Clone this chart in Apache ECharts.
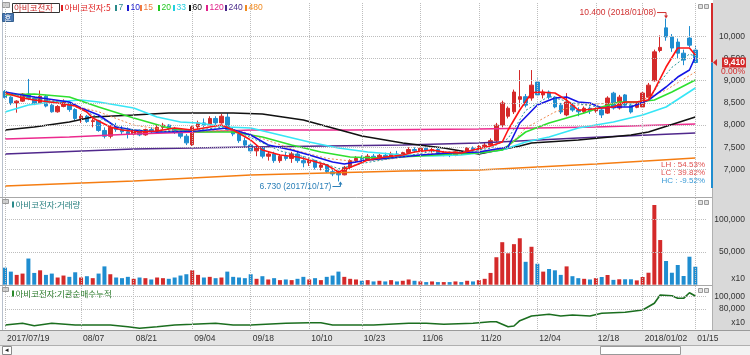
<!DOCTYPE html>
<html><head><meta charset="utf-8">
<script src="https://cdn.jsdelivr.net/npm/echarts@6/dist/echarts.min.js"></script>
<style>html,body{margin:0;padding:0;background:#fff}#c{width:750px;height:355px}</style>
</head><body><div id="c"></div>
<script>
// ---------- DATA ----------
const dates = [
'2017/07/19','2017/07/20','2017/07/21','2017/07/24','2017/07/25','2017/07/26','2017/07/27','2017/07/28','2017/07/31','2017/08/01','2017/08/02','2017/08/03','2017/08/04',
'2017/08/07','2017/08/08','2017/08/09','2017/08/10','2017/08/11','2017/08/14','2017/08/16','2017/08/17','2017/08/18',
'2017/08/21','2017/08/22','2017/08/23','2017/08/24','2017/08/25','2017/08/28','2017/08/29','2017/08/30','2017/08/31','2017/09/01',
'2017/09/04','2017/09/05','2017/09/06','2017/09/07','2017/09/08','2017/09/11','2017/09/12','2017/09/13','2017/09/14','2017/09/15',
'2017/09/18','2017/09/19','2017/09/20','2017/09/21','2017/09/22','2017/09/25','2017/09/26','2017/09/27','2017/09/28','2017/09/29',
'2017/10/10','2017/10/11','2017/10/12','2017/10/13','2017/10/16','2017/10/17','2017/10/18','2017/10/19','2017/10/20',
'2017/10/23','2017/10/24','2017/10/25','2017/10/26','2017/10/27','2017/10/30','2017/10/31','2017/11/01','2017/11/02','2017/11/03',
'2017/11/06','2017/11/07','2017/11/08','2017/11/09','2017/11/10','2017/11/13','2017/11/14','2017/11/15','2017/11/16','2017/11/17',
'2017/11/20','2017/11/21','2017/11/22','2017/11/23','2017/11/24','2017/11/27','2017/11/28','2017/11/29','2017/11/30','2017/12/01',
'2017/12/04','2017/12/05','2017/12/06','2017/12/07','2017/12/08','2017/12/11','2017/12/12','2017/12/13','2017/12/14','2017/12/15',
'2017/12/18','2017/12/19','2017/12/20','2017/12/21','2017/12/22','2017/12/26','2017/12/27','2017/12/28',
'2018/01/02','2018/01/03','2018/01/04','2018/01/05','2018/01/08','2018/01/09','2018/01/10','2018/01/11','2018/01/12','2018/01/15'
];
const padCats = ['pad1','pad2'];

const open = [8760,8630,8500,8540,8700,8600,8500,8650,8450,8300,8420,8500,8350,
8150,8200,8080,8100,7880,7750,7950,7900,7850,
7800,7880,7780,7900,7850,7950,8000,7920,7850,7750,
7560,7960,8050,8000,8150,8050,8180,7900,7800,7650,
7550,7420,7500,7300,7350,7200,7300,7250,7350,7200,
7150,7200,7050,7100,6950,6950,6880,7050,7200,
7250,7220,7300,7250,7320,7280,7350,7300,7380,7450,
7420,7480,7430,7450,7350,7380,7320,7400,7360,7480,
7450,7520,7550,7650,8000,8200,8300,8580,8640,8610,
8970,8680,8745,8630,8450,8230,8450,8340,8300,8380,
8320,8340,8270,8720,8385,8680,8450,8400,
8408,8630,9000,9680,10190,9985,9870,9620,9960,9690];
const high = [8790,8650,8560,8720,9040,8650,8780,8680,8500,8450,8580,8520,8380,
8250,8230,8150,8120,7950,8000,8050,7980,7950,
7900,7900,7920,7950,8000,8050,8020,7960,7880,7800,
8000,8100,8150,8200,8200,8250,8270,7950,7850,7720,
7600,7550,7520,7400,7400,7350,7380,7400,7400,7300,
7250,7220,7150,7120,7000,6980,7080,7230,7300,
7320,7350,7350,7350,7380,7400,7420,7400,7500,7500,
7520,7520,7500,7480,7420,7400,7430,7420,7500,7520,
7550,7600,7700,8050,8550,8420,8800,9240,8700,9240,
9050,8800,8780,8650,8500,8720,8500,8400,8420,8420,
8400,8380,8650,8750,8680,8700,8480,8520,
8750,8950,9700,10020,10400,10050,9950,9700,10230,9800];
const low = [8600,8450,8280,8520,8560,8450,8480,8400,8280,8280,8400,8300,8100,
8050,8050,7950,7850,7700,7700,7850,7800,7700,
7750,7750,7760,7820,7830,7900,7880,7800,7700,7550,
7530,7900,7950,7980,8000,8030,7880,7750,7600,7500,
7380,7300,7250,7200,7150,7150,7200,7150,7150,7050,
7080,7000,6980,6920,6850,6730,6870,7000,7150,
7180,7200,7200,7220,7250,7260,7280,7280,7350,7380,
7400,7400,7380,7320,7300,7280,7300,7330,7350,7400,
7430,7480,7530,7620,7950,8150,8250,8400,8400,8550,
8650,8600,8580,8380,8250,8200,8300,8200,8250,8250,
8280,8160,8250,8350,8350,8420,8260,8380,
8400,8600,8980,9640,9900,9650,9500,9350,9750,9400];
const close = [8620,8500,8540,8700,8600,8480,8650,8430,8300,8420,8520,8350,8150,
8200,8080,8100,7880,7750,7950,7900,7850,7800,
7880,7780,7900,7850,7950,8000,7920,7850,7750,7600,
7960,8050,8000,8150,8050,8200,7900,7800,7650,7550,
7420,7500,7300,7350,7200,7300,7250,7350,7200,7150,
7200,7050,7100,6950,6900,6880,7050,7200,7250,
7220,7300,7250,7320,7280,7350,7300,7380,7450,7420,
7480,7430,7450,7350,7380,7320,7400,7360,7480,7450,
7520,7550,7650,8000,8500,8380,8745,8640,8450,8900,
8680,8745,8630,8410,8295,8520,8340,8300,8380,8320,
8360,8230,8610,8385,8630,8450,8295,8500,
8723,8900,9650,9750,9985,9736,9620,9465,9800,9410];
const volume = [26000,20000,15000,17000,40000,18000,22000,15000,17000,11000,14000,12000,19000,
11000,13000,10000,17000,28000,16000,11000,10000,12000,
9000,11000,10000,8000,11000,10000,9000,11000,14000,16000,
22000,15000,11000,12000,10000,11000,20000,12000,11000,10000,
16000,9000,13000,8000,10000,7000,8000,7000,9000,12000,
8000,10000,7000,12000,14000,20000,12000,9000,8000,
6000,7000,5000,6000,5000,7000,5000,6000,8000,6000,
5000,4000,5000,4000,4000,4000,5000,4000,6000,5000,
7000,9000,18000,42000,65000,48000,62000,71000,35000,58000,
32000,20000,24000,22000,15000,28000,13000,10000,9000,8000,
10000,11800,14800,7400,8300,8300,8300,6600,
11800,18300,121900,68300,36200,18300,30100,13300,42800,27500];

// moving averages: [day index, price]
const ma5 = [[0,8723],[3,8610],[5,8565],[9,8498],[12,8430],[14,8295],[15,8160],[18,7957],[20,7890],[23,7845],[26,7867],[29,7935],[32,7890],[34,7935],[37,8002],[39,7890],[42,7665],[44,7439],[47,7327],[50,7282],[52,7214],[55,7102],[57,6944],[60,7102],[62,7214],[65,7282],[68,7327],[70,7394],[73,7439],[75,7394],[78,7372],[80,7439],[83,7530],[85,7620],[86,7890],[88,8340],[90,8723],[91,8746],[94,8723],[96,8565],[98,8340],[99,8340],[102,8385],[104,8408],[106,8520],[108,8520],[110,8565],[111,8790],[113,9308],[115,9736],[117,9736],[118,9579]];
const ma7 = [[0,8735],[5,8600],[11,8480],[15,8230],[20,7920],[26,7850],[32,7880],[38,7960],[42,7720],[47,7420],[52,7260],[57,7020],[62,7160],[68,7290],[73,7410],[78,7380],[83,7480],[86,7700],[89,8330],[93,8650],[97,8500],[102,8400],[106,8460],[110,8560],[112,8980],[114,9300],[117,9600],[118,9550]];
const ma10 = [[0,8746],[5,8633],[11,8520],[13,8385],[16,8228],[19,7957],[22,7890],[26,7845],[33,7867],[38,7935],[42,7777],[45,7552],[49,7439],[52,7327],[56,7169],[58,7124],[62,7214],[66,7259],[71,7327],[76,7372],[81,7394],[86,7507],[88,8047],[91,8453],[94,8610],[96,8633],[98,8520],[100,8498],[102,8385],[104,8408],[107,8408],[110,8565],[113,8858],[115,9083],[117,9241],[118,9534]];
const ma15 = [[0,8700],[8,8560],[16,8300],[22,8000],[28,7880],[34,7870],[40,7880],[45,7650],[50,7420],[55,7250],[60,7180],[66,7240],[72,7350],[78,7400],[83,7420],[86,7500],[89,7935],[94,8295],[98,8453],[104,8498],[108,8520],[113,8790],[118,9196]];
const ma20 = [[0,8678],[5,8700],[11,8633],[16,8408],[22,8160],[28,7935],[33,7845],[39,7845],[44,7732],[49,7552],[54,7394],[59,7282],[64,7259],[71,7304],[76,7349],[81,7372],[85,7439],[89,7845],[93,8047],[96,8160],[99,8273],[102,8408],[105,8520],[108,8520],[111,8565],[114,8746],[118,9016]];
const ma33 = [[0,8295],[4,8453],[8,8520],[13,8565],[16,8520],[22,8385],[26,8183],[30,8070],[33,8047],[38,7957],[42,7935],[47,7777],[52,7620],[57,7484],[62,7394],[68,7327],[73,7304],[78,7327],[81,7372],[85,7439],[89,7620],[93,7732],[98,7935],[104,8070],[109,8228],[113,8408],[118,8836]];
const ma60 = [[0,7890],[5,7957],[11,8070],[15,8183],[22,8228],[28,8273],[39,8273],[44,8250],[51,8115],[56,7935],[61,7755],[68,7597],[75,7484],[81,7349],[88,7530],[90,7597],[98,7665],[107,7777],[110,7845],[118,8183]];
const ma120 = [[0,7687],[11,7732],[22,7800],[33,7845],[42,7890],[59,7890],[81,7912],[101,7957],[118,8025]];
const ma240 = [[0,7349],[22,7462],[42,7507],[68,7552],[81,7597],[98,7710],[118,7822]];
const ma480 = [[0,6628],[22,6741],[42,6876],[68,6966],[81,6989],[101,7124],[118,7259]];

// institutional net buying (cumulative): [day index, value]
const cumNet = [[0,53980],[3,56750],[5,52850],[8,56750],[12,54000],[18,54000],[21,51220],[23,48620],[26,51220],[29,54000],[32,55120],[36,56750],[39,54000],[42,54000],[48,56750],[52,57720],[54,57720],[56,54000],[63,54000],[69,56750],[72,56750],[75,55120],[80,56750],[83,59350],[84,59350],[86,51220],[87,52360],[88,60980],[90,68620],[93,71380],[95,68620],[97,70240],[100,68620],[102,73010],[106,74630],[109,78370],[111,89270],[112,102760],[114,101630],[115,97400],[116,97400],[117,106500],[118,101140]];

const priceTicks = [7000,7500,8000,8500,9000,9500,10000];
const volTicks = [50000,100000];
const cumTicks = [80000,100000];
const dateTickIdx = [0,13,22,32,42,52,61,71,81,91,101,109,118];
const dateTickLabels = ['2017/07/19','08/07','08/21','09/04','09/18','10/10','10/23','11/06','11/20','12/04','12/18','2018/01/02','01/15'];

const maNames = ['5','7','10','15','20','33','60','120','240','480'];
const stockName = '아비코전자';
const hiIdx = 113, hiVal = 10400, hiText = '10.400 (2018/01/08)';
const loIdx = 57, loVal = 6730, loText = '6.730 (2017/10/17)';
const lastPrice = 9410, lastChg = '0.00%';
const statTexts = ['LH : 54.53%','LC : 39.82%','HC : -9.52%'];

// ---------- CHART ----------
const RED = '#d42a2a', BLUE = '#1f8dd0';
const cats = dates.concat(padCats);
const tickSet = new Set(dateTickIdx);
const labelMap = {}; dateTickIdx.forEach((d,i)=>labelMap[d]=dateTickLabels[i]);
const FONT = 'Liberation Sans';
const KFONT = 'Noto Sans CJK KR';
const fmt = v => Math.round(v).toLocaleString('en-US');

const candleData = open.map((o,i)=>[o, close[i], low[i], high[i]]);
const volData = volume.map((v,i)=>({value:v, itemStyle:{color: close[i]>=open[i]?RED:BLUE}}));

const gridBase = {left:5, width:702, outerBoundsMode:'none', containLabel:false};
const grids = [
  Object.assign({top:3, height:194}, gridBase),
  Object.assign({top:198, height:86.7}, gridBase),
  Object.assign({top:286, height:43}, gridBase)
];
function xAx(gi, showLabel){
  return {type:'category', gridIndex:gi, data:cats, boundaryGap:false, z:10,
    axisLine:{show:false}, axisTick:{show:false},
    axisLabel:{show:showLabel, interval:(i)=>tickSet.has(i), formatter:(v,i)=>labelMap[i]||'',
      align:'left', padding:[0,0,0,2], margin:5, fontSize:8.5, fontFamily:FONT, color:'#333'},
    splitLine:{show:true, interval:(i)=>tickSet.has(i), lineStyle:{type:'dotted', color:'#bdbdbd', width:1}}};
}
function yAx(gi, min, max, ticks){
  return {type:'value', gridIndex:gi, position:'right', min:min, max:max, z:10,
    axisLine:{show:false}, axisTick:{show:false, customValues:ticks},
    axisLabel:{customValues:ticks, align:'right', margin:38, fontSize:8.5, fontFamily:FONT, color:'#333', formatter:fmt},
    splitLine:{show:true, lineStyle:{type:'dotted', color:'#bdbdbd', width:1}}};
}
const maStyles = [
  {c:'#ff1414', w:1.6},
  {c:'#2a9a9a', w:1, t:[2,2]},
  {c:'#1414e6', w:1.6},
  {c:'#f08a50', w:1, t:[2,2]},
  {c:'#2ee02e', w:1.6},
  {c:'#36e6f6', w:1.6},
  {c:'#111111', w:1.6},
  {c:'#ec2a8e', w:1.6},
  {c:'#50288c', w:1.6},
  {c:'#f57d12', w:1.6}
];
const maData = [ma5,ma7,ma10,ma15,ma20,ma33,ma60,ma120,ma240,ma480];
const series = [];
series.push({type:'candlestick', name:'price', xAxisIndex:0, yAxisIndex:0, data:candleData, barWidth:4, clip:false, z:3,
  itemStyle:{color:RED, color0:BLUE, borderColor:RED, borderColor0:BLUE, borderWidth:1}});
for (let k=maData.length-1;k>=0;k--){
  const s = maStyles[k];
  series.push({type:'line', name:'MA'+maNames[k], xAxisIndex:0, yAxisIndex:0, data:maData[k], symbol:'none', z:4,
    lineStyle:{color:s.c, width:s.w, type:s.t||'solid'}, silent:true, clip:false});
}
series.push({type:'bar', name:'volume', xAxisIndex:1, yAxisIndex:1, data:volData, barWidth:4, clip:false, z:3});
series.push({type:'line', name:'cum', xAxisIndex:2, yAxisIndex:2, data:cumNet, symbol:'none', z:3,
  lineStyle:{color:'#1b6e1f', width:1.6}, silent:true});

const chart = echarts.init(document.getElementById('c'));
chart.setOption({
  animation:false, backgroundColor:'#ffffff',
  grid:grids,
  xAxis:[xAx(0,false), xAx(1,false), xAx(2,true)],
  yAxis:[yAx(0,6381,10750,priceTicks), yAx(1,0,132560,volTicks), yAx(2,47480,117400,cumTicks)],
  series:series
});

// ---------- DECORATION ----------
function P(gi, i, v){ return chart.convertToPixel({gridIndex:gi}, [i, v]); }
const G = [];
const txt = (x,y,t,color,size,align,font,weight,z)=>({type:'text', x:x, y:y, z:z||20, silent:true,
  style:{text:t, fill:color, fontSize:size, fontFamily:font||FONT, fontWeight:weight||'normal', align:align||'left', verticalAlign:'middle'}});
const rect = (x,y,w,h,fill,stroke,z)=>({type:'rect', z:z||1, silent:true, shape:{x:x,y:y,width:w,height:h}, style:{fill:fill, stroke:stroke||null, lineWidth:1}});
const line = (x1,y1,x2,y2,c,z)=>({type:'line', z:z||2, silent:true, shape:{x1:x1,y1:y1,x2:x2,y2:y2}, style:{stroke:c, lineWidth:1}});

// backgrounds
G.push(rect(713,0,37,330,'#d9d9d9',null,0));
G.push(rect(0,330,750,15,'#e4e4e4',null,0));
G.push(line(0,330.5,750,330.5,'#9a9a9a'));
G.push(rect(0,345,750,10,'#f3f3f3',null,0));
G.push(line(0,345.5,750,345.5,'#b0b0b0'));
G.push(rect(2.5,346.5,9,8,'#ffffff','#8a8a8a',2));
G.push(txt(7,350.5,'◂','#222',7,'center'));
G.push(rect(600.5,346.5,80,8,'#ffffff','#9a9a9a',2));
G.push(line(2.5,0,2.5,330,'#b8c0cc'));
G.push(line(0,197.5,713,197.5,'#a8a8a8'));
G.push(line(0,285.5,713,285.5,'#a8a8a8'));
G.push(line(712.5,188,712.5,330,'#b0b0b0'));

// price bar at right edge
const yP = P(0,118,lastPrice)[1];
G.push(rect(711,3,2,yP-3,RED,null,5));
G.push(rect(711,yP,2,188-yP,BLUE,null,5));
G.push({type:'polygon', z:21, silent:true, shape:{points:[[713,yP],[717,yP-3.5],[717,yP+3.5]]}, style:{fill:RED}});
G.push(rect(722,yP-5,24,10,RED,null,21));
G.push(txt(745,yP,fmt(lastPrice),'#ffffff',8.5,'right',FONT,'bold',22));
G.push(txt(745,yP+9,lastChg,RED,8.5,'right',FONT,'normal',22));

// top-left chrome and legend
G.push(rect(2.5,2.5,7,5,'#d0d0d0','#9a9a9a',5));
G.push(rect(12.5,3.5,47,9,'#ffffff','#333333',5));
G.push(txt(14,8,stockName,'#c82828',8.5,'left',KFONT,'normal',21));
G.push(rect(2.5,13.5,11,8,'#4a78b4','#34608f',5));
G.push(txt(8,17.5,'호','#ffffff',7,'center',KFONT,'normal',21));
const legX = [61,115,127,140,158,173,189,206,225,245];
const legC = ['#e02020','#2a8a8a','#1a1ad0','#f07a40','#22c822','#22d0e0','#111111','#e0208a','#4a2a8a','#f08a20'];
maNames.forEach((n,k)=>{
  G.push(rect(legX[k],5,2,6,legC[k],null,21));
  G.push(txt(legX[k]+3.5,8, k===0? stockName+':'+n : n, legC[k], 8.5,'left', k===0?KFONT:FONT,'normal',21));
});
// panel titles
G.push(rect(2.5,199.5,6,4,'#d0d0d0','#9a9a9a',5));
G.push(rect(12,201.5,2,6,'#2a8a8a',null,21));
G.push(txt(15.5,204.5,stockName+':거래량','#2a8080',8.5,'left',KFONT,'normal',21));
G.push(rect(2.5,287.5,6,4,'#d0d0d0','#9a9a9a',5));
G.push(rect(12,290.5,2,6,'#2a8a2a',null,21));
G.push(txt(15.5,293.5,stockName+':기관순매수누적','#2a7a2a',8.5,'left',KFONT,'normal',21));
// small panel buttons
[4,200,288].forEach(y=>{ G.push(rect(698.5,y+0.5,4,4,'#e0e0e0','#9a9a9a',21)); G.push(rect(704.5,y+0.5,4,4,'#e0e0e0','#9a9a9a',21)); });
// unit labels
G.push(txt(745,279,'x10','#333',8.5,'right'));
G.push(txt(745,323,'x10','#333',8.5,'right'));

// high / low labels
const ph = P(0,hiIdx,hiVal);
G.push(txt(ph[0]-10,ph[1]-6,hiText,'#d03030',8.5,'right'));
G.push({type:'polyline', z:21, silent:true, shape:{points:[[ph[0]-9,ph[1]-6],[ph[0],ph[1]-6],[ph[0],ph[1]-2]]}, style:{stroke:'#d03030', lineWidth:1, fill:null}});
G.push({type:'polygon', z:21, silent:true, shape:{points:[[ph[0]-2,ph[1]-3],[ph[0]+2,ph[1]-3],[ph[0],ph[1]]]}, style:{fill:'#d03030'}});
const pl = P(0,loIdx,loVal);
G.push(txt(pl[0]-7,pl[1]+5,loText,'#2a7fb8',8.5,'right'));
G.push({type:'polyline', z:21, silent:true, shape:{points:[[pl[0]-6,pl[1]+5],[pl[0]+2,pl[1]+5],[pl[0]+2,pl[1]+1]]}, style:{stroke:'#2a7fb8', lineWidth:1, fill:null}});
G.push({type:'polygon', z:21, silent:true, shape:{points:[[pl[0],pl[1]+3],[pl[0]+4,pl[1]+3],[pl[0]+2,pl[1]]]}, style:{fill:'#2a7fb8'}});
// stats
const statC = ['#e05050','#e05050','#3a9ad6'];
statTexts.forEach((t,k)=>G.push(txt(705,165+8*k,t,statC[k],8,'right')));

chart.setOption({graphic:{elements:G}});
</script></body></html>
